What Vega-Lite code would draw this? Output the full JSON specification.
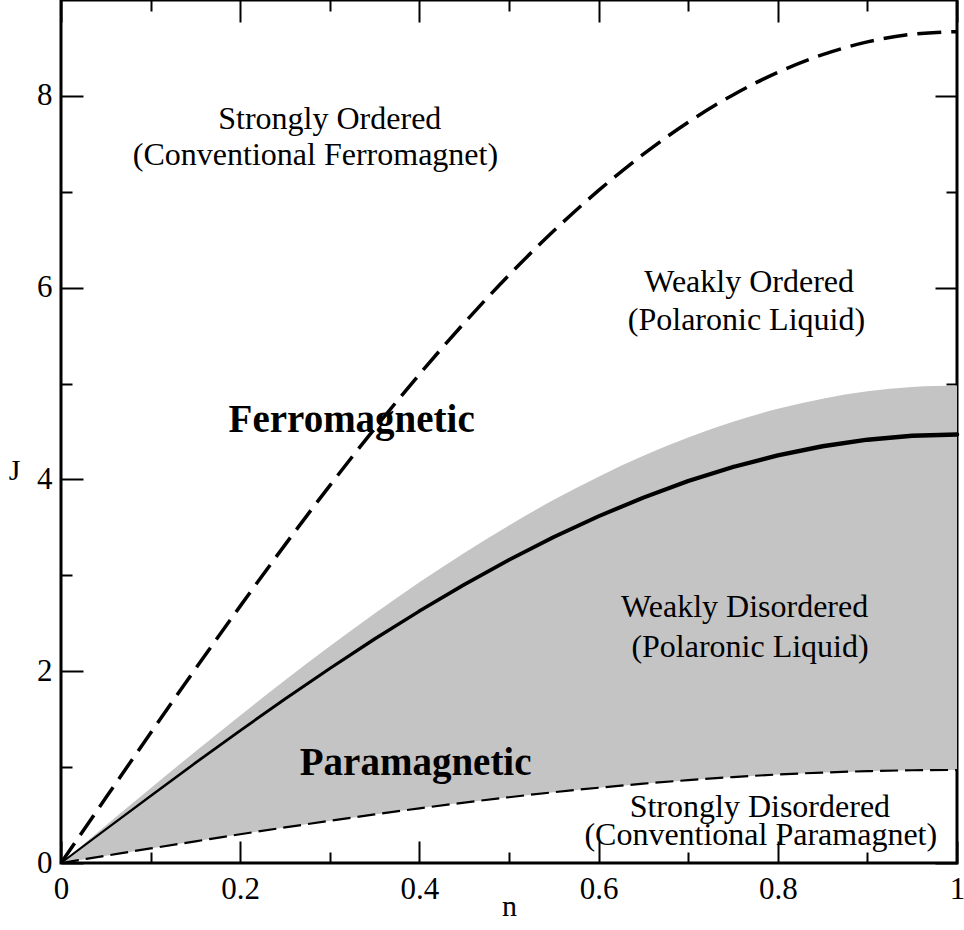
{
  "$schema": "https://vega.github.io/schema/vega-lite/v6.json",
  "width": 896,
  "height": 863,
  "autosize": "none",
  "padding": {"left": 61, "top": 0, "right": 7, "bottom": 67},
  "background": "white",
  "config": {
    "view": {"stroke": "black", "strokeWidth": 3},
    "axis": {
      "grid": false,
      "domain": false,
      "tickColor": "black",
      "tickWidth": 2,
      "labelFont": "Liberation Serif",
      "labelFontSize": 31,
      "labelColor": "black",
      "labelFlush": false,
      "labelOverlap": false,
      "labelBound": false,
      "titleFont": "Liberation Serif",
      "titleFontSize": 30,
      "titleFontWeight": "normal",
      "titleColor": "black"
    }
  },
  "datasets": {
    "curves": [
      {"n": 0.00, "upper": 0.000, "solid": 0.000, "bandTop": 0.000, "lower": 0.000},
      {"n": 0.05, "upper": 0.680, "solid": 0.351, "bandTop": 0.391, "lower": 0.076},
      {"n": 0.10, "upper": 1.356, "solid": 0.699, "bandTop": 0.779, "lower": 0.152},
      {"n": 0.15, "upper": 2.024, "solid": 1.044, "bandTop": 1.163, "lower": 0.226},
      {"n": 0.20, "upper": 2.679, "solid": 1.381, "bandTop": 1.539, "lower": 0.300},
      {"n": 0.25, "upper": 3.318, "solid": 1.711, "bandTop": 1.906, "lower": 0.371},
      {"n": 0.30, "upper": 3.936, "solid": 2.029, "bandTop": 2.261, "lower": 0.440},
      {"n": 0.35, "upper": 4.530, "solid": 2.336, "bandTop": 2.602, "lower": 0.507},
      {"n": 0.40, "upper": 5.096, "solid": 2.627, "bandTop": 2.927, "lower": 0.570},
      {"n": 0.45, "upper": 5.631, "solid": 2.903, "bandTop": 3.234, "lower": 0.630},
      {"n": 0.50, "upper": 6.131, "solid": 3.161, "bandTop": 3.521, "lower": 0.686},
      {"n": 0.55, "upper": 6.593, "solid": 3.399, "bandTop": 3.787, "lower": 0.738},
      {"n": 0.60, "upper": 7.014, "solid": 3.616, "bandTop": 4.029, "lower": 0.785},
      {"n": 0.65, "upper": 7.392, "solid": 3.811, "bandTop": 4.246, "lower": 0.827},
      {"n": 0.70, "upper": 7.725, "solid": 3.983, "bandTop": 4.437, "lower": 0.864},
      {"n": 0.75, "upper": 8.010, "solid": 4.130, "bandTop": 4.601, "lower": 0.896},
      {"n": 0.80, "upper": 8.246, "solid": 4.251, "bandTop": 4.736, "lower": 0.923},
      {"n": 0.85, "upper": 8.430, "solid": 4.346, "bandTop": 4.842, "lower": 0.943},
      {"n": 0.90, "upper": 8.563, "solid": 4.415, "bandTop": 4.919, "lower": 0.958},
      {"n": 0.95, "upper": 8.643, "solid": 4.456, "bandTop": 4.965, "lower": 0.967},
      {"n": 1.00, "upper": 8.670, "solid": 4.470, "bandTop": 4.980, "lower": 0.970}
    ],
    "labels": [
      {"n": 0.300, "J": 7.653, "text": "Strongly Ordered", "kind": "region"},
      {"n": 0.284, "J": 7.280, "text": "(Conventional Ferromagnet)", "kind": "region"},
      {"n": 0.768, "J": 5.955, "text": "Weakly Ordered", "kind": "region"},
      {"n": 0.765, "J": 5.560, "text": "(Polaronic Liquid)", "kind": "region"},
      {"n": 0.763, "J": 2.568, "text": "Weakly Disordered", "kind": "region"},
      {"n": 0.769, "J": 2.150, "text": "(Polaronic Liquid)", "kind": "region"},
      {"n": 0.780, "J": 0.481, "text": "Strongly Disordered", "kind": "region"},
      {"n": 0.781, "J": 0.186, "text": "(Conventional Paramagnet)", "kind": "region"},
      {"n": 0.3244, "J": 4.498, "text": "Ferromagnetic", "kind": "phase"},
      {"n": 0.3958, "J": 0.916, "text": "Paramagnetic", "kind": "phase"}
    ]
  },
  "layer": [
    {
      "data": {"name": "curves"},
      "mark": {"type": "area", "color": "#c4c4c4", "opacity": 1, "interpolate": "monotone"},
      "encoding": {
        "x": {
          "field": "n", "type": "quantitative",
          "scale": {"domain": [0, 1], "nice": false, "zero": false},
          "axis": {
            "orient": "bottom", "values": [0, 0.2, 0.4, 0.6, 0.8, 1], "format": "~g",
            "tickSize": -22, "labelPadding": 33, "title": "n",
            "titleY": 52, "titleBaseline": "alphabetic"
          }
        },
        "y": {
          "field": "lower", "type": "quantitative",
          "scale": {"domain": [0, 9], "nice": false, "zero": false},
          "axis": {
            "orient": "left", "values": [0, 2, 4, 6, 8], "format": "d",
            "tickSize": -22, "labelPadding": 31, "title": "J",
            "titleAngle": 0, "titleX": -47, "titleY": 479,
            "titleAlign": "center", "titleBaseline": "alphabetic"
          }
        },
        "y2": {"field": "bandTop"}
      }
    },
    {
      "data": {"name": "curves"},
      "mark": {"type": "line", "color": "black", "strokeWidth": 3.5, "strokeDash": [24, 10], "interpolate": "monotone"},
      "encoding": {
        "x": {
          "field": "n", "type": "quantitative",
          "scale": {"domain": [0, 1], "nice": false, "zero": false},
          "axis": {"orient": "top", "values": [0, 0.2, 0.4, 0.6, 0.8, 1], "labels": false, "tickSize": -22, "title": null}
        },
        "y": {
          "field": "upper", "type": "quantitative",
          "scale": {"domain": [0, 9], "nice": false, "zero": false},
          "axis": {"orient": "right", "values": [0, 2, 4, 6, 8], "labels": false, "tickSize": -22, "title": null}
        }
      }
    },
    {
      "data": {"name": "curves"},
      "mark": {"type": "line", "color": "black", "strokeWidth": 2.2, "strokeDash": [18, 7], "interpolate": "monotone"},
      "encoding": {
        "x": {
          "field": "n", "type": "quantitative",
          "scale": {"domain": [0, 1], "nice": false, "zero": false},
          "axis": {"orient": "bottom", "values": [0.1, 0.3, 0.5, 0.7, 0.9], "labels": false, "tickSize": -11, "title": null}
        },
        "y": {
          "field": "lower", "type": "quantitative",
          "scale": {"domain": [0, 9], "nice": false, "zero": false},
          "axis": {"orient": "left", "values": [1, 3, 5, 7], "labels": false, "tickSize": -11, "title": null}
        }
      }
    },
    {
      "data": {"name": "curves"},
      "mark": {"type": "trail", "color": "black"},
      "encoding": {
        "x": {
          "field": "n", "type": "quantitative",
          "scale": {"domain": [0, 1], "nice": false, "zero": false},
          "axis": {"orient": "top", "values": [0.1, 0.3, 0.5, 0.7, 0.9], "labels": false, "tickSize": -11, "title": null}
        },
        "y": {
          "field": "solid", "type": "quantitative",
          "scale": {"domain": [0, 9], "nice": false, "zero": false},
          "axis": {"orient": "right", "values": [1, 3, 5, 7], "labels": false, "tickSize": -11, "title": null}
        },
        "size": {
          "field": "solid", "type": "quantitative",
          "scale": {"domain": [0, 4.47], "range": [2, 4.5]},
          "legend": null
        }
      }
    },
    {
      "data": {"name": "labels"},
      "transform": [{"filter": "datum.kind === 'region'"}],
      "mark": {"type": "text", "font": "Liberation Serif", "fontSize": 32, "color": "black", "align": "center", "baseline": "alphabetic"},
      "encoding": {
        "x": {"field": "n", "type": "quantitative", "scale": {"domain": [0, 1], "nice": false, "zero": false}, "axis": null},
        "y": {"field": "J", "type": "quantitative", "scale": {"domain": [0, 9], "nice": false, "zero": false}, "axis": null},
        "text": {"field": "text"}
      }
    },
    {
      "data": {"name": "labels"},
      "transform": [{"filter": "datum.kind === 'phase'"}],
      "mark": {"type": "text", "font": "Liberation Serif", "fontSize": 39, "fontWeight": "bold", "color": "black", "align": "center", "baseline": "alphabetic"},
      "encoding": {
        "x": {"field": "n", "type": "quantitative", "scale": {"domain": [0, 1], "nice": false, "zero": false}, "axis": null},
        "y": {"field": "J", "type": "quantitative", "scale": {"domain": [0, 9], "nice": false, "zero": false}, "axis": null},
        "text": {"field": "text"}
      }
    }
  ],
  "resolve": {"axis": {"x": "independent", "y": "independent"}}
}
